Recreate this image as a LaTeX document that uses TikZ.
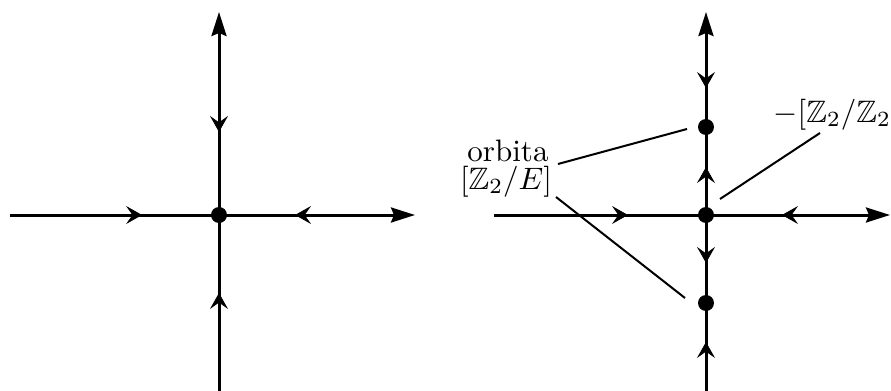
\documentclass[tikz,border=0pt]{standalone}
\usepackage{amssymb}
\usetikzlibrary{arrows.meta,decorations.markings}
\tikzset{
  axis/.style={line width=1.5pt},
  endtip/.tip={Stealth[length=12pt,width=7.5pt,inset=1.5pt]},
  midtip/.tip={Stealth[length=8pt,width=9pt,inset=3.2pt]},
  flow/.style={decoration={markings,mark=at position #1 with {\arrow{midtip}}},decorate},
  fixpt/.style={circle,fill=black,inner sep=0pt,minimum size=8pt},
  lbl/.style={scale=1.55,inner sep=0pt},
  leader/.style={line width=1pt},
}
\begin{document}
\begin{tikzpicture}[x=0.5pt,y=-0.5pt]
\useasboundingbox (0,0) rectangle (891,391);
% left diagram
\coordinate (W1) at (10,215);
\coordinate (E1) at (415,215);
\coordinate (N1) at (219,12);
\coordinate (S1) at (219,391);
\coordinate (C1) at (219,215);
\draw[axis,-endtip] (W1) -- (E1);
\draw[axis,-endtip] (S1) -- (N1);
\path[flow=0.632] (W1) -- (C1);
\path[flow=0.612] (E1) -- (C1);
\path[flow=0.591] (N1) -- (C1);
\path[flow=0.557] (S1) -- (C1);
\node[fixpt] (c1) at (C1) {};
% right diagram
\coordinate (W2) at (494,215);
\coordinate (E2) at (890,215);
\coordinate (N2) at (706,12);
\coordinate (S2) at (706,391);
\coordinate (C2) at (706,215);
\coordinate (P) at (706,127);
\coordinate (Q) at (706,303);
\draw[axis,-endtip] (W2) -- (E2);
\draw[axis,-endtip] (S2) -- (N2);
\path[flow=0.632] (W2) -- (C2);
\path[flow=0.587] (E2) -- (C2);
\path[flow=0.661] (N2) -- (P);
\path[flow=0.545] (C2) -- (P);
\path[flow=0.545] (C2) -- (Q);
\path[flow=0.557] (S2) -- (Q);
\node[fixpt] (c2) at (C2) {};
\node[fixpt] (p) at (P) {};
\node[fixpt] (q) at (Q) {};
% labels
\node[lbl,anchor=base] (orb) at (508,162) {orbita};
\node[lbl,anchor=base] (ze) at (506,189) {$[\mathbb{Z}_2/E]$};
\node[lbl,anchor=base west] (zz) at (773,122) {$-[\mathbb{Z}_2/\mathbb{Z}_2]$};
\coordinate (A1) at (558,164);
\coordinate (A2) at (556,197);
\coordinate (A3) at (820,133);
\coordinate (B1) at (687,129);
\coordinate (B2) at (685,298);
\coordinate (B3) at (720,199);
\draw[leader] (A1) -- (B1);
\draw[leader] (A2) -- (B2);
\draw[leader] (A3) -- (B3);
\end{tikzpicture}
\end{document}
